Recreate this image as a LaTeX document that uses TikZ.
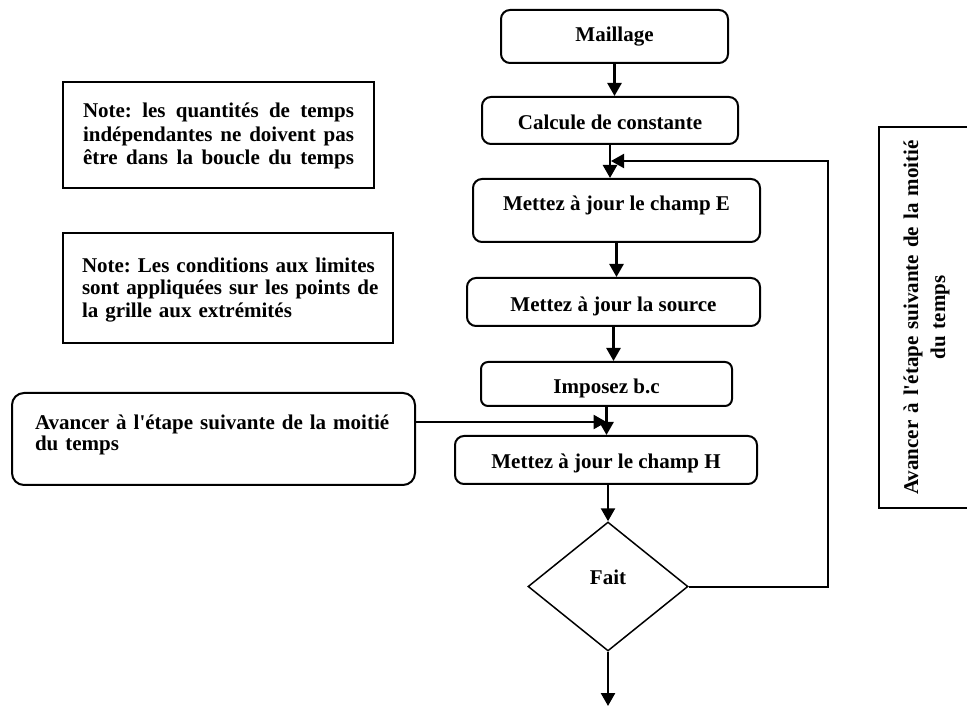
\documentclass[tikz,border=0pt]{standalone}
\usepackage{fontspec}
\setmainfont{Liberation Serif}[Ligatures=TeXOff]
\usetikzlibrary{shapes.geometric,arrows.meta}

\begin{document}
\frenchspacing
\begin{tikzpicture}[x=1pt,y=-1pt,
  every node/.style={font=\bfseries\fontsize{21}{23.5}\selectfont},
  etape/.style={draw, line width=2pt, rounded corners=9pt, inner sep=0pt},
  note/.style={draw, line width=2pt, inner sep=0pt},
  fleche/.style={line width=2.5pt, -{Triangle[length=13pt,width=14pt]}}]
\useasboundingbox (0,0) rectangle (967,708);

% boucle principale
\node [etape, minimum width=227pt, minimum height=53pt] (maillage) at (614.5,36.5) {Maillage};
\node [etape, minimum width=256pt, minimum height=47pt, text height=19pt, text depth=0pt] (calcule) at (610,120.5) {Calcule de constante};
\node [etape, minimum width=287pt, minimum height=63pt, text height=15pt, text depth=15pt] (champE) at (616.5,210.5) {Mettez à jour le champ E};
\node [etape, minimum width=293pt, minimum height=48pt, text height=19pt, text depth=0pt] (source) at (613.5,302) {Mettez à jour la source};
\node [etape, rounded corners=7pt, minimum width=251pt, minimum height=44pt, text height=19pt, text depth=0pt] (imposez) at (606.5,384) {Imposez b.c};
\node [etape, minimum width=302pt, minimum height=48pt, text height=16pt, text depth=0pt] (champH) at (606,460) {Mettez à jour le champ H};
\node [draw, diamond, line width=1.5pt, minimum width=160pt, minimum height=129pt, inner sep=0pt, text height=14pt, text depth=19pt] (fait) at (608,586.5) {Fait};

% notes
\node [note, minimum width=311pt, minimum height=106pt, text width=271pt, align=left, text height=15pt, text depth=49pt] (note1) at (218.5,135)
  {Note:\hfill les\hfill quantités\hfill de\hfill temps\\
   indépendantes\hfill ne\hfill doivent\hfill pas\\
   être\hfill dans\hfill la\hfill boucle\hfill du\hfill temps};
\node [note, minimum width=330pt, minimum height=110pt, text width=292pt, align=left, text height=15pt, text depth=46pt,
  font=\bfseries\fontsize{21}{22.5}\selectfont] (note2) at (228,288)
  {\mbox{Note: Les conditions aux limites}\\\mbox{sont appliquées sur les points de}\\\mbox{la grille aux extrémités}};
\node [etape, rounded corners=12pt, minimum width=403pt, minimum height=92pt, text width=357pt, align=left, text height=15pt, text depth=33pt,
  font=\bfseries\fontsize{21}{21}\selectfont] (avancer) at (213.5,439)
  {Avancer à l'étape suivante de la moitié\\du temps};
\node [note, rotate=90, minimum width=381pt, minimum height=95pt, text width=360pt, align=center,
  font=\bfseries\fontsize{21}{27}\selectfont] (demi) at (926.5,317.5)
  {Avancer à l'étape suivante de la moitié\\du temps};

\coordinate (fin) at (608,706);
\coordinate (retour) at (828,161);
\coordinate (entree) at (611,161);

% fleches
\draw [fleche] (maillage.south) -- (maillage.south |- calcule.north);
\draw [fleche] (calcule.south) -- (calcule.south |- champE.north);
\draw [fleche] (champE.south) -- (champE.south |- source.north);
\draw [fleche] (source.south) -- (source.south |- imposez.north);
\draw [fleche] (imposez.south) -- (imposez.south |- champH.north);
\draw [fleche] (avancer.east |- 0,422) -- (imposez.south |- 0,422);
\draw [fleche] (champH.south -| fait.north) -- (fait.north);
\draw [fleche] (fait.south) -- (fin);
\draw [fleche, line width=2pt] (fait.east) -| (retour) -- (entree);
\end{tikzpicture}
\end{document}
